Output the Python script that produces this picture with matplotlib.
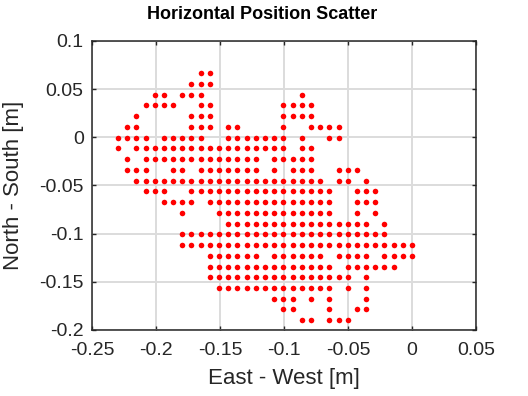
import matplotlib
matplotlib.use("Agg")
import matplotlib.pyplot as plt

plt.rcParams['font.family'] = ['Liberation Sans', 'DejaVu Sans']
plt.rcParams['axes.unicode_minus'] = False

# grid of quantized positions (east-west columns, north-south rows)
col_x = [-0.2297, -0.2225, -0.2153, -0.2081, -0.2010, -0.1938, -0.1866, -0.1794,
         -0.1723, -0.1651, -0.1579, -0.1507, -0.1436, -0.1364, -0.1292, -0.1220,
         -0.1149, -0.1077, -0.1005, -0.0933, -0.0861, -0.0790, -0.0718, -0.0646,
         -0.0574, -0.0503, -0.0431, -0.0359, -0.0287, -0.0215, -0.0144, -0.0072,
         0.0000]
row_y = [0.0666, 0.0555, 0.0443, 0.0332, 0.0220, 0.0109, -0.0003, -0.0114,
         -0.0226, -0.0337, -0.0449, -0.0560, -0.0672, -0.0783, -0.0895, -0.1006,
         -0.1118, -0.1229, -0.1341, -0.1452, -0.1564, -0.1675, -0.1787, -0.1898]

# which columns hold a point, one list per row (top to bottom)
row_cols = [
    [9, 10],
    [8, 9, 10],
    [4, 5, 7, 8, 9, 20],
    [3, 4, 5, 6, 9, 10, 18, 19, 20, 21],
    [2, 8, 9, 10, 18, 19, 20, 21],
    [1, 2, 8, 9, 10, 12, 13, 18, 21, 22, 23, 24],
    [0, 1, 2, 3, 5, 6, 7, 8, 9, 12, 13, 14, 15, 16, 17, 18, 20, 23, 24],
    [0, 2, 3, 4, 5, 6, 7, 8, 9, 10, 11, 12, 13, 14, 15, 16, 17, 18, 20, 21],
    [1, 3, 4, 5, 6, 7, 8, 9, 10, 11, 12, 13, 14, 15, 17, 18, 19, 20, 21],
    [1, 2, 3, 6, 7, 9, 10, 11, 12, 13, 14, 15, 17, 19, 20, 21, 24, 25, 26],
    [2, 3, 4, 5, 6, 7, 8, 9, 10, 11, 12, 13, 14, 15, 16, 17, 18, 19, 20, 21, 22,
     24, 25, 27],
    [3, 4, 5, 8, 9, 10, 11, 12, 13, 14, 15, 16, 17, 18, 19, 20, 21, 22, 23,
     26, 27, 28],
    [5, 6, 7, 8, 10, 11, 12, 13, 14, 15, 16, 17, 18, 19, 20, 21, 22, 23,
     26, 27, 28],
    [7, 11, 12, 13, 14, 15, 16, 17, 18, 19, 20, 21, 22, 23, 26, 28],
    [12, 13, 14, 15, 16, 17, 18, 19, 20, 21, 22, 23, 24, 25, 26, 27, 29],
    [7, 8, 9, 10, 11, 12, 13, 14, 15, 16, 17, 18, 19, 20, 21, 22, 23, 24, 25,
     26, 27, 28, 29],
    [7, 8, 9, 10, 11, 12, 13, 14, 15, 16, 17, 18, 19, 20, 21, 22, 23, 24, 25,
     26, 27, 28, 29, 30, 31, 32],
    [10, 11, 12, 13, 14, 15, 17, 18, 19, 20, 21, 22, 24, 25, 26, 27,
     29, 30, 31, 32],
    [10, 11, 12, 13, 14, 15, 16, 17, 18, 19, 20, 21, 22, 23, 25, 26, 27, 28, 29, 30],
    [10, 11, 12, 13, 14, 15, 16, 17, 18, 19, 20, 21, 22, 23, 24, 25, 27],
    [11, 12, 13, 14, 15, 16, 17, 18, 19, 20, 21, 22, 23, 25, 27],
    [17, 18, 19, 21, 23, 27],
    [18, 19, 23, 26, 27],
    [20, 21, 23, 24, 25],
]

x_ticks = [-0.25, -0.2, -0.15, -0.1, -0.05, 0, 0.05]
x_labels = ['-0.25', '-0.2', '-0.15', '-0.1', '-0.05', '0', '0.05']
y_ticks = [-0.2, -0.15, -0.1, -0.05, 0, 0.05, 0.1]
y_labels = ['-0.2', '-0.15', '-0.1', '-0.05', '0', '0.05', '0.1']

east = []
north = []
for y, cols in zip(row_y, row_cols):
    for c in cols:
        east.append(col_x[c])
        north.append(y)

fig = plt.figure(figsize=(5.28, 3.96), dpi=100)
ax = fig.add_axes([0.1742, 0.1667, 0.7273, 0.7298])

ax.plot(east, north, linestyle='none', marker='o', markersize=4.0,
        color='#ff0000', markeredgewidth=0)

ax.set_xlim(-0.25, 0.05)
ax.set_ylim(-0.2, 0.1)
ax.set_xticks(x_ticks)
ax.set_xticklabels(x_labels)
ax.set_yticks(y_ticks)
ax.set_yticklabels(y_labels)

ax.grid(True, color='#dcdcdc', linewidth=1.4)
ax.set_axisbelow(True)
for s in ax.spines.values():
    s.set_linewidth(1.1)
    s.set_color('#262626')
ax.tick_params(direction='in', length=3, width=1, top=True, right=True,
               labelsize=14, colors='#262626')
ax.tick_params(axis='x', pad=9)
ax.tick_params(axis='y', pad=6)

ax.set_xlabel('East - West [m]', fontsize=16, color='#262626', labelpad=6)
ax.set_ylabel('North - South [m]', fontsize=16, color='#262626', labelpad=11)
ax.set_title('Horizontal Position Scatter', fontsize=13, fontweight='bold',
             pad=16, x=0.443)

fig.savefig('out.png', dpi=100)
